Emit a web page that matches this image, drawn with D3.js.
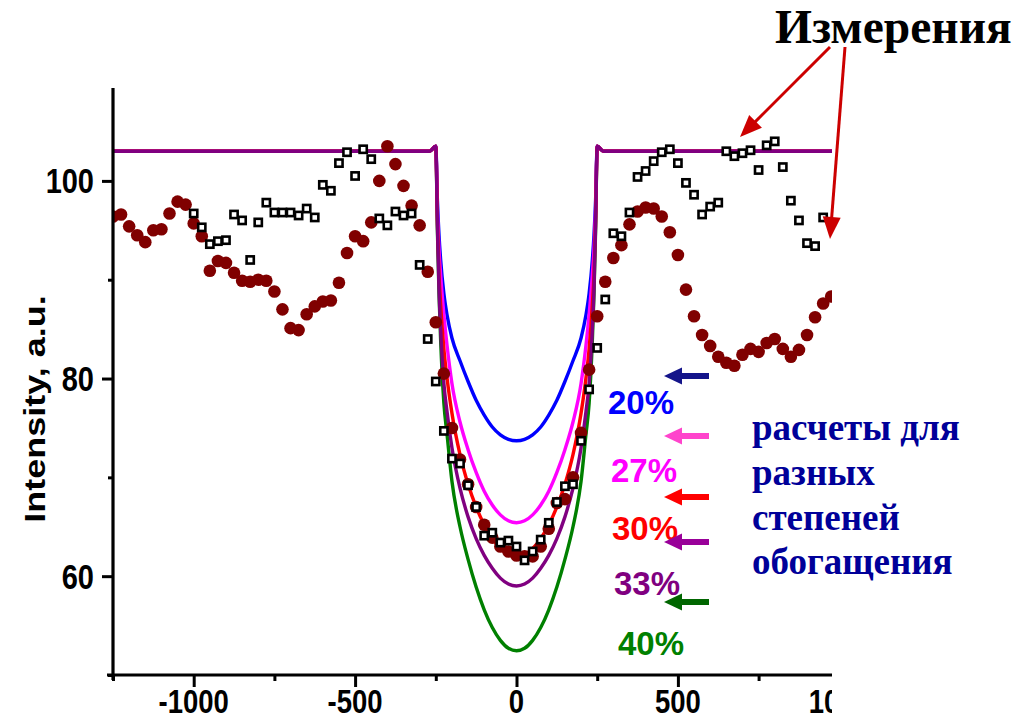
<!DOCTYPE html>
<html><head><meta charset="utf-8">
<script src="https://cdn.jsdelivr.net/npm/d3@7"></script>
<style>body{margin:0;background:#fff}svg{display:block}</style>
</head><body>
<svg id="c" width="1023" height="720"></svg>
<script>
// ---- data ----
const calcX = [-1250,-270,-250,-245,-240,-235,-225,-215,-200,-175,-150,-125,-100,-75,-50,-25,0,25,50,75,100,125,150,175,200,215,225,235,240,245,250,270,1250];
const calc20 = [103,103,103.5,98,94.5,92.0,88.6,86.4,84.1,81.8,79.7,77.8,76.3,75.1,74.3,73.85,73.7,73.85,74.3,75.1,76.3,77.8,79.7,81.8,84.1,86.4,88.6,92.0,94.5,98,103.5,103,103];
const calc27 = [103,103,103.5,97,93,90.5,86.5,83.3,79.5,75.6,72.8,70.5,68.6,67.2,66.2,65.6,65.4,65.6,66.2,67.2,68.6,70.5,72.8,75.6,79.5,83.3,86.5,90.5,93,97,103.5,103,103];
const calc30 = [103,103,103.5,96,90.5,87.5,83,80,76.5,72.3,69.3,67,65.2,63.8,62.8,62.2,62,62.2,62.8,63.8,65.2,67,69.3,72.3,76.5,80,83,87.5,90.5,96,103.5,103,103];
const calc33 = [103,103,103.5,95.5,89,85,79.5,76.6,73,68.9,66,63.8,62.1,60.8,59.8,59.2,59,59.2,59.8,60.8,62.1,63.8,66,68.9,73,76.6,79.5,85,89,95.5,103.5,103,103];
const calc40 = [103,103,103.5,95,88.5,83.9,77.5,74.3,69.6,65,61.7,58.9,56.6,54.8,53.5,52.7,52.45,52.7,53.5,54.8,56.6,58.9,61.7,65,69.6,74.3,77.5,83.9,88.5,95,103.5,103,103];

const circX = [-1250,-1225,-1200,-1175,-1150,-1125,-1100,-1075,-1050,-1025,-1000,-975,-950,-925,-900,-875,-850,-825,-800,-775,-750,-725,-700,-675,-650,-625,-600,-575,-550,-525,-500,-475,-450,-425,-400,-375,-350,-325,-300,-275,-250,-225,-200,-175,-150,-125,-100,-75,-50,-25,0,25,50,75,100,125,150,175,200,225,250,275,300,325,350,375,400,425,450,475,500,525,550,575,600,625,650,675,700,725,750,775,800,825,850,875,900,925,950,975];
const circY = [96.4,96.6,95.4,94.5,93.8,95.0,95.1,96.7,97.9,97.6,95.7,94.4,90.9,91.9,91.7,90.7,89.9,89.8,90.0,89.9,88.8,87.0,85.1,84.9,86.5,87.3,87.8,87.9,89.7,92.7,94.4,93.9,95.8,100.0,103.5,101.7,99.5,97.5,95.5,90.8,85.7,80.5,75.0,71.8,69.3,67.0,65.2,63.9,63.0,62.5,62.1,62.0,62.0,63.0,64.8,67.4,67.8,70.0,74.5,80.9,86.3,89.8,92.2,93.5,95.6,96.9,97.3,97.2,96.4,94.8,92.5,89.0,86.3,84.4,83.3,82.2,81.6,81.3,82.4,83.0,82.7,83.6,84.0,83.0,82.2,82.9,84.4,86.2,87.6,88.3];

const sqX = [-1000,-975,-950,-925,-900,-875,-850,-825,-800,-775,-750,-725,-700,-675,-650,-625,-600,-575,-550,-525,-500,-475,-450,-425,-400,-375,-350,-325,-300,-275,-250,-225,-200,-175,-150,-125,-100,-75,-50,-25,0,25,50,75,100,125,150,175,200,225,250,275,300,325,350,375,400,425,450,475,500,525,550,575,600,625,650,675,700,725,750,775,800,825,850,875,900,925,950];
const sqY = [96.7,95.3,93.6,93.9,94.0,96.6,96.0,92.0,95.8,97.8,96.8,96.8,96.8,96.5,97.2,96.3,99.6,99.0,101.8,102.9,100.5,103.2,102.2,96.2,95.5,96.9,96.5,96.7,91.5,84.0,79.7,74.7,71.9,71.4,69.2,67.0,64.1,64.4,63.4,63.6,63.0,61.6,62.5,63.7,65.4,67.5,69.1,69.3,73.7,78.9,83.1,88.0,94.7,94.4,96.8,100.4,101.0,102.0,102.9,103.2,101.8,99.8,98.6,96.6,97.4,97.8,103.0,102.5,102.8,103.1,101.1,103.6,104.0,101.4,98.0,96.0,93.7,93.4,96.3];

const xTicks = [-1000,-500,0,500,1000];
const xMinor = [-1250,-750,-250,250,750,1250];
const yTicks = [60,80,100];
const yMinor = [50,70,90];
const pctLabels = ["20%","27%","30%","33%","40%"];
const noteLines = ["расчеты для","разных","степеней","обогащения"];
const titleText = "Измерения";
const yTitle = "Intensity, a.u.";

// ---- layout ----
const svg = d3.select("#c");
const x = d3.scaleLinear().domain([-1250,1250]).range([113,920]);
const y = d3.scaleLinear().domain([50,109.4]).range([675,88]);
const sans = "'Liberation Sans', Arial, sans-serif";
const serif = "'Liberation Serif', 'Times New Roman', serif";

const defs = svg.append("defs");
defs.append("clipPath").attr("id","crop").append("rect").attr("x",0).attr("y",0).attr("width",832).attr("height",720);
defs.append("clipPath").attr("id","plot").append("rect").attr("x",113).attr("y",60).attr("width",720).attr("height",615);

const chart = svg.append("g").attr("clip-path","url(#crop)");
const plot = chart.append("g").attr("clip-path","url(#plot)");

const line = d3.line().x((d,i)=>x(calcX[i])).y(d=>y(d)).curve(d3.curveMonotoneX);
const series = [
  {v:calc40, c:"#008000"},
  {v:calc20, c:"#0000ff"},
  {v:calc27, c:"#ff00ff"},
  {v:calc30, c:"#ff0000"},
  {v:calc33, c:"#800080"}
];
plot.selectAll("path.calc").data(series).join("path").attr("class","calc")
  .attr("d",d=>line(d.v)).attr("fill","none").attr("stroke",d=>d.c)
  .attr("stroke-width",3.4).attr("stroke-linejoin","round");

plot.selectAll("circle.m").data(circY).join("circle").attr("class","m")
  .attr("cx",(d,i)=>x(circX[i])).attr("cy",d=>y(d)).attr("r",6.3).attr("fill","#800000");

const s = 7.2;
plot.selectAll("rect.sq").data(sqY).join("rect").attr("class","sq")
  .attr("x",(d,i)=>x(sqX[i])-s/2).attr("y",d=>y(d)-s/2).attr("width",s).attr("height",s)
  .attr("fill","#fff").attr("stroke","#000").attr("stroke-width",2.6);

// axes
const x0 = x.range()[0], yb = y(50);
const xa = chart.append("g").attr("transform",`translate(0,${yb})`);
xa.call(d3.axisBottom(x).tickValues(xTicks).tickSize(12).tickSizeOuter(0).tickFormat(""));
xa.append("g").call(d3.axisBottom(x).tickValues(xMinor).tickSize(6).tickSizeOuter(0).tickFormat(""));
xa.selectAll(".domain").remove();
xa.selectAll("line").attr("stroke","#000").attr("stroke-width",3);
chart.append("line").attr("x1",x0-6).attr("x2",x.range()[1]).attr("y1",yb).attr("y2",yb).attr("stroke","#000").attr("stroke-width",3.2);

const ya = chart.append("g").attr("transform",`translate(${x0},0)`);
ya.call(d3.axisLeft(y).tickValues(yTicks).tickSize(11).tickSizeOuter(0).tickFormat(""));
ya.append("g").call(d3.axisLeft(y).tickValues(yMinor).tickSize(5).tickSizeOuter(0).tickFormat(""));
ya.selectAll(".domain").remove();
ya.selectAll("line").attr("stroke","#000").attr("stroke-width",3);
chart.append("line").attr("x1",x0).attr("x2",x0).attr("y1",y.range()[1]).attr("y2",yb+5).attr("stroke","#000").attr("stroke-width",3.2);

chart.selectAll("text.xt").data(xTicks).join("text").attr("class","xt")
  .attr("transform",d=>`translate(${x(d)},713) scale(1,1.2)`).attr("text-anchor","middle")
  .attr("font-family",sans).attr("font-weight","bold").attr("font-size",27.5).text(d=>d);
chart.selectAll("text.yt").data(yTicks).join("text").attr("class","yt")
  .attr("transform",d=>`translate(94,${y(d)+12.5}) scale(1,1.2)`).attr("text-anchor","end")
  .attr("font-family",sans).attr("font-weight","bold").attr("font-size",29).text(d=>d);
chart.append("text").attr("transform","translate(45,409) scale(1,1.2) rotate(-90)")
  .attr("text-anchor","middle").attr("font-family",sans).attr("font-weight","bold").attr("font-size",30).text(yTitle);

// annotations
function arrow(g, x1, y1, x2, y2, color, w, hl, hw){
  const a = Math.atan2(y2-y1, x2-x1), ca=Math.cos(a), sa=Math.sin(a);
  const bx = x2-hl*ca, by = y2-hl*sa;
  g.append("line").attr("x1",x1).attr("y1",y1).attr("x2",bx+ca*2).attr("y2",by+sa*2)
    .attr("stroke",color).attr("stroke-width",w);
  g.append("path").attr("d",`M${x2},${y2}L${bx-hw*sa},${by+hw*ca}L${bx+hw*sa},${by-hw*ca}Z`).attr("fill",color);
}
const ann = svg.append("g");
ann.append("text").attr("x",775).attr("y",43).attr("font-family",serif).attr("font-weight","bold")
  .attr("font-size",47.5).attr("fill","#000").text(titleText);
arrow(ann, 830, 47, 740, 137, "#cc0000", 3, 22, 9);
arrow(ann, 845, 47, 830, 239, "#cc0000", 3, 22, 9);

const pctPos = [[608,414,"#0000ff"],[611,482,"#ff00ff"],[612,540,"#ff0000"],[614,595,"#800080"],[618,655,"#008000"]];
ann.selectAll("text.pct").data(pctLabels).join("text").attr("class","pct")
  .attr("x",(d,i)=>pctPos[i][0]).attr("y",(d,i)=>pctPos[i][1]).attr("fill",(d,i)=>pctPos[i][2])
  .attr("font-family",sans).attr("font-weight","bold").attr("font-size",33).text(d=>d);

const arrPos = [[376,"#14148a"],[436,"#ff44cc"],[497,"#ff0000"],[542,"#990099"],[602,"#006600"]];
arrPos.forEach(p=>arrow(ann, 709, p[0], 664, p[0], p[1], 6, 18, 8.5));

ann.selectAll("text.note").data(noteLines).join("text").attr("class","note")
  .attr("x",752).attr("y",(d,i)=>[440,485,529.5,574][i]).attr("fill","#000099")
  .attr("font-family",serif).attr("font-weight","bold").attr("font-size",37).text(d=>d);
</script>
</body></html>
